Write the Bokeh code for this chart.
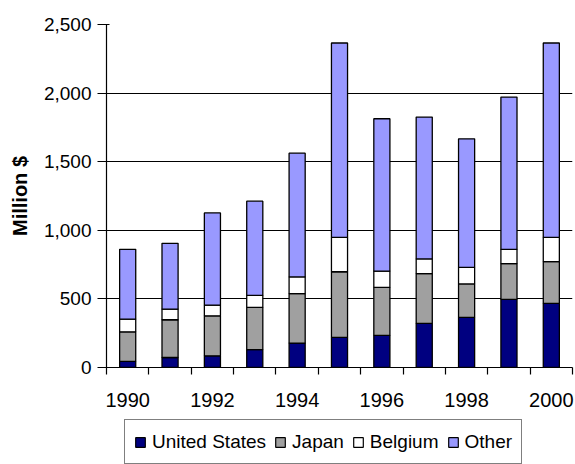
from bokeh.plotting import figure
from bokeh.layouts import column
from bokeh.models import (ColumnDataSource, Range1d, FixedTicker, NumeralTickFormatter,
                          Legend, LegendItem)
from bokeh.embed import file_html
from bokeh.resources import INLINE

years = [1990, 1991, 1992, 1993, 1994, 1995, 1996, 1997, 1998, 1999, 2000]
united_states = [44, 73, 85, 131, 178, 219, 234, 321, 365, 496, 467]
japan = [216, 275, 292, 307, 360, 479, 350, 363, 244, 261, 305]
belgium = [93, 78, 78, 88, 122, 251, 119, 107, 121, 104, 177]
other = [508, 479, 672, 686, 902, 1416, 1110, 1034, 937, 1110, 1416]

series = ["United States", "Japan", "Belgium", "Other"]
colors = ["#000080", "#A0A0A0", "#FFFFFF", "#9999FF"]
y_ticks = [0, 500, 1000, 1500, 2000, 2500]
x_labels = [1990, 1992, 1994, 1996, 1998, 2000]

FONT = "Liberation Sans"

source = ColumnDataSource(dict(
    year=years,
    us=united_states,
    jp=japan,
    be=belgium,
    ot=other,
))

p = figure(width=575, height=416, output_backend="svg", toolbar_location=None,
           x_range=Range1d(1989.5, 2000.5), y_range=Range1d(0, 2500),
           min_border_left=106, min_border_right=3, min_border_top=24,
           min_border_bottom=49)
p.outline_line_color = None
p.background_fill_color = "white"
p.border_fill_color = "white"

p.vbar_stack(["us", "jp", "be", "ot"], x="year", width=0.38,
             source=source, fill_color=colors,
             line_color="black", line_width=1.3)

# x axis: boundary ticks between years, labels on even years
p.xaxis.ticker = FixedTicker(ticks=x_labels,
                             minor_ticks=[y - 0.5 for y in years] + [2000.5])
p.xaxis.major_tick_line_color = None
p.xaxis.major_tick_out = 0
p.xaxis.major_tick_in = 0
p.xaxis.minor_tick_line_color = "black"
p.xaxis.minor_tick_line_width = 1.2
p.xaxis.minor_tick_out = 7
p.xaxis.minor_tick_in = 0
p.xaxis.major_label_standoff = 18
p.xaxis.axis_line_color = "black"
p.xaxis.axis_line_width = 1.2
p.xaxis.major_label_text_font_size = "20px"

# y axis
p.yaxis.ticker = FixedTicker(ticks=y_ticks)
p.yaxis.formatter = NumeralTickFormatter(format="0,0")
p.yaxis.minor_tick_line_color = None
p.yaxis.major_tick_line_color = "black"
p.yaxis.major_tick_line_width = 1.2
p.yaxis.major_tick_out = 9
p.yaxis.major_tick_in = 3
p.yaxis.major_label_standoff = 6
p.yaxis.axis_line_color = "black"
p.yaxis.axis_line_width = 1.2
p.yaxis.major_label_text_font_size = "19px"
p.yaxis.axis_label = "Million $"
p.yaxis.axis_label_text_font = FONT
p.yaxis.axis_label_text_font_style = "bold"
p.yaxis.axis_label_text_font_size = "20px"
p.yaxis.axis_label_text_color = "black"
p.yaxis.axis_label_standoff = 10

for ax in (p.xaxis, p.yaxis):
    ax.major_label_text_font = FONT
    ax.major_label_text_color = "black"

p.xgrid.grid_line_color = None
p.ygrid.ticker = FixedTicker(ticks=y_ticks[1:])
p.ygrid.grid_line_color = "black"
p.ygrid.grid_line_width = 1.2

# legend strip underneath the chart (its frame lines up with the chart frame)
lg = figure(width=575, height=48, output_backend="svg", toolbar_location=None,
            x_range=Range1d(0, 1), y_range=Range1d(0, 1),
            x_axis_type=None, y_axis_type=None,
            min_border_left=0, min_border_right=0, min_border_top=0,
            min_border_bottom=0)
lg.outline_line_color = None
lg.grid.visible = False

nan = float("nan")
items = []
for name, col in zip(series, colors):
    r = lg.vbar(x=[nan], top=[nan], width=1, fill_color=col,
                line_color="black", line_width=1.2)
    items.append(LegendItem(label=name, renderers=[r]))

legend = Legend(items=items, orientation="horizontal", location=(18, 0),
                border_line_color="black", border_line_width=1.5,
                label_text_font=FONT, label_text_font_size="19px",
                label_text_color="black", label_height=25,
                glyph_width=12, glyph_height=12, label_standoff=6,
                spacing=8, padding=9, margin=0)
lg.add_layout(legend, "center")

layout = column(p, lg, spacing=0)
open("out.html", "w").write(file_html(layout, INLINE))
